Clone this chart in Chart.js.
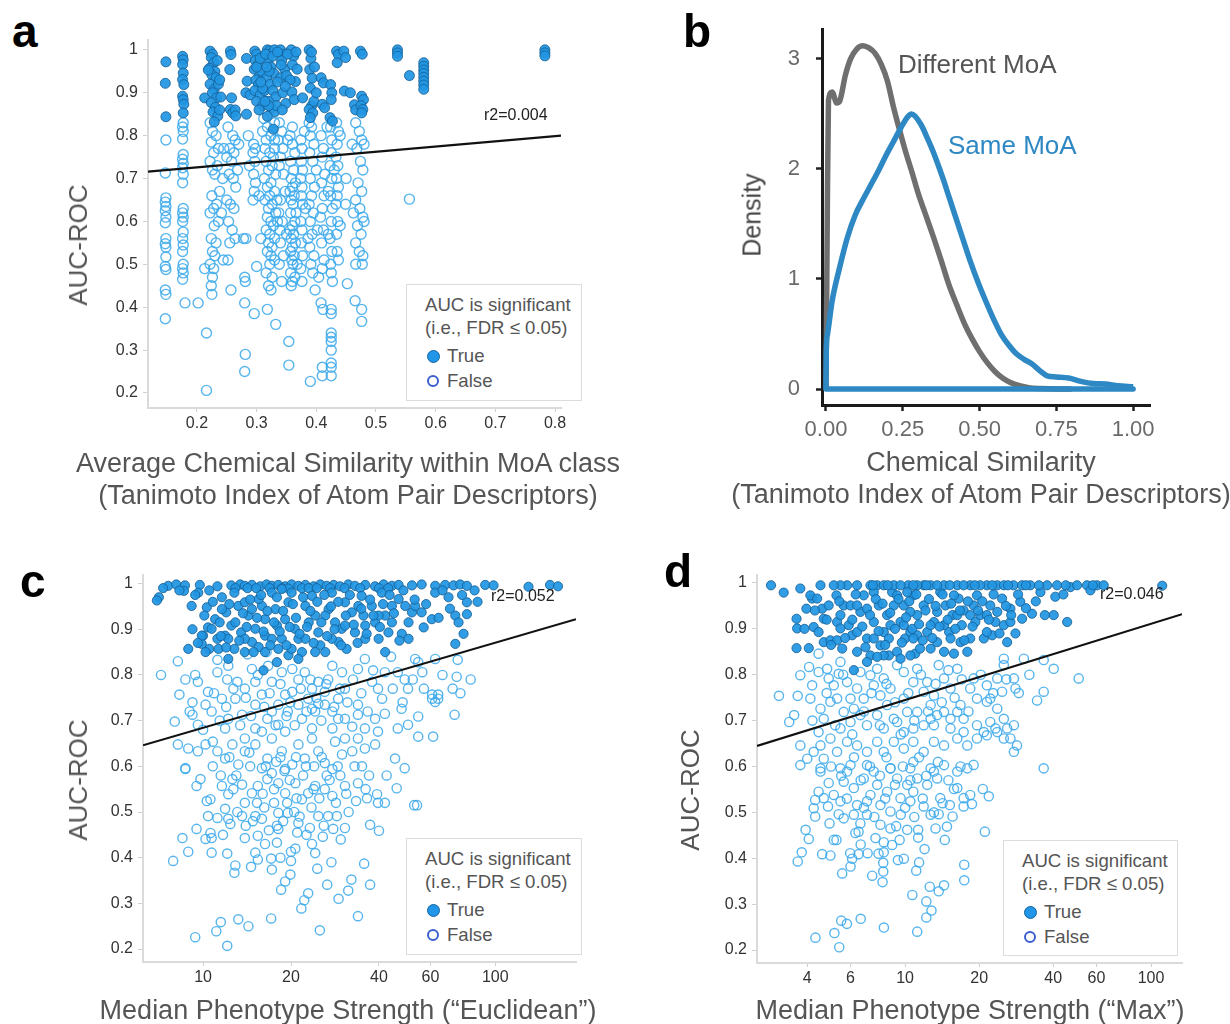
<!DOCTYPE html>
<html><head><meta charset="utf-8">
<script src="https://cdn.jsdelivr.net/npm/chart.js@4.4.1/dist/chart.umd.min.js"></script>
<style>
body{margin:0;background:#fff;}
#page{position:relative;width:1230px;height:1024px;overflow:hidden;background:#fff;font-family:'Liberation Sans',Arial,sans-serif;}
canvas{position:absolute;}
.t{position:absolute;white-space:nowrap;line-height:1;}
.ct{position:absolute;white-space:nowrap;line-height:1;transform:translate(-50%,-50%);color:#555;font-size:27px;}
.lt{position:absolute;font-weight:bold;font-size:46px;line-height:46px;color:#000;}
.yt{position:absolute;white-space:nowrap;line-height:1;transform:translate(-50%,-50%) rotate(-90deg);}
.lg{position:absolute;border:1.5px solid #dcdcdc;background:#fff;box-sizing:border-box;}
.dot{position:absolute;border-radius:50%;box-sizing:border-box;}
</style></head>
<body><div id="page">
<canvas id="ca" width="580" height="500" style="left:40px;top:20px"></canvas>
<canvas id="cb" width="540" height="520" style="left:690px;top:0px"></canvas>
<canvas id="cc" width="580" height="464" style="left:40px;top:560px"></canvas>
<canvas id="cd" width="580" height="464" style="left:650px;top:560px"></canvas>
</div>
<script>
// ---------- DATA ----------
// Panel a: Average chemical similarity vs AUC-ROC
const aXTicks = [0.2,0.3,0.4,0.5,0.6,0.7,0.8];
const aYTicks = [0.2,0.3,0.4,0.5,0.6,0.7,0.8,0.9,1];
const aTrue = [
[0.148,0.972],[0.147,0.922],[0.148,0.844],
[0.176,0.985],[0.177,0.977],[0.176,0.966],[0.177,0.946],[0.176,0.931],[0.178,0.919],[0.176,0.892],[0.177,0.884],[0.178,0.873],[0.177,0.853],
[0.213,0.888],
[0.222,0.997],[0.226,0.99],[0.224,0.982],[0.228,0.97],[0.221,0.957],[0.23,0.95],[0.225,0.942],[0.232,0.935],[0.222,0.92],[0.229,0.908],[0.226,0.9],[0.233,0.888],[0.224,0.877],[0.231,0.866],[0.227,0.855],[0.235,0.846],[0.229,0.832],[0.238,0.86],[0.236,0.92],[0.219,0.953],
[0.256,0.997],[0.257,0.989],[0.255,0.954],[0.258,0.888],[0.256,0.861],[0.26,0.853],[0.264,0.86],[0.265,0.846],
[0.283,0.98],[0.284,0.927],[0.282,0.9],[0.283,0.85],[0.289,0.895],
[0.297,0.997],[0.3,0.99],[0.298,0.975],[0.302,0.965],[0.296,0.955],[0.305,0.94],[0.299,0.93],[0.303,0.918],[0.297,0.905],[0.306,0.895],[0.3,0.88],[0.31,0.87],[0.304,0.86],[0.312,0.985],[0.309,0.95],[0.313,0.905],
[0.318,1.0],[0.322,0.998],[0.326,0.993],[0.33,1.0],[0.319,0.975],[0.324,0.96],[0.329,0.945],[0.317,0.935],[0.323,0.92],[0.327,0.905],[0.332,0.89],[0.32,0.88],[0.325,0.865],[0.33,0.855],[0.318,0.845],[0.328,0.815],[0.333,0.87],[0.321,0.95],
[0.34,1.0],[0.345,0.99],[0.342,0.975],[0.347,0.955],[0.34,0.935],[0.344,0.9],[0.349,0.875],[0.343,0.86],[0.35,0.94],
[0.358,1.0],[0.362,0.985],[0.36,0.965],[0.365,0.926],[0.359,0.902],[0.363,0.884],[0.368,0.955],
[0.377,0.888],
[0.388,1.0],[0.391,0.98],[0.389,0.954],[0.393,0.934],[0.39,0.911],[0.392,0.869],[0.388,0.861],[0.394,0.853],[0.39,0.842],[0.396,0.88],
[0.408,0.935],[0.412,0.923],[0.41,0.873],[0.414,0.865],
[0.424,0.919],[0.426,0.9],[0.425,0.884],[0.423,0.842],[0.427,0.834],
[0.434,0.997],[0.437,0.989],[0.435,0.97],
[0.446,0.997],[0.449,0.982],[0.447,0.904],
[0.457,0.9],[0.464,0.872],[0.466,0.86],
[0.474,0.997],[0.477,0.99],[0.476,0.892],[0.479,0.884],[0.475,0.87],[0.478,0.861],[0.476,0.853],
[0.536,1.0],[0.536,0.993],[0.536,0.985],
[0.556,0.94],
[0.58,0.97],[0.58,0.962],[0.58,0.953],[0.58,0.945],[0.58,0.936],[0.58,0.927],[0.58,0.918],[0.58,0.908],
[0.783,1.0],[0.783,0.993],[0.783,0.986],
[0.3,0.96],[0.306,0.98],[0.315,0.99],[0.327,0.985],[0.335,0.995],[0.341,0.965],[0.352,0.99],[0.356,0.93],[0.31,0.91],[0.32,0.87],[0.335,0.925],[0.348,0.915],[0.366,0.995],[0.234,0.975],[0.238,0.93],[0.24,0.89],[0.392,0.995],[0.397,0.96],[0.4,0.9],[0.307,0.925],[0.317,0.96],[0.314,0.88]
];
const aFalse = [
[0.148,0.79],[0.147,0.713],[0.148,0.655],[0.147,0.645],[0.148,0.635],[0.147,0.625],[0.148,0.61],[0.147,0.597],[0.148,0.56],[0.147,0.548],[0.148,0.54],[0.148,0.517],[0.147,0.495],[0.148,0.488],[0.147,0.44],[0.148,0.43],[0.147,0.373],
[0.177,0.83],[0.176,0.82],[0.177,0.81],[0.176,0.792],[0.177,0.756],[0.176,0.745],[0.177,0.735],[0.176,0.725],[0.177,0.71],[0.176,0.69],[0.177,0.63],[0.176,0.62],[0.177,0.61],[0.176,0.6],[0.177,0.575],[0.176,0.56],[0.177,0.545],[0.176,0.53],[0.177,0.5],[0.176,0.49],[0.177,0.48],[0.176,0.465],[0.18,0.41],
[0.202,0.41],[0.213,0.49],[0.216,0.34],[0.216,0.206],
[0.222,0.83],[0.226,0.81],[0.232,0.8],[0.224,0.785],[0.236,0.77],[0.228,0.76],[0.222,0.74],[0.234,0.73],[0.226,0.72],[0.23,0.71],[0.238,0.67],[0.225,0.66],[0.233,0.64],[0.228,0.63],[0.222,0.62],[0.236,0.6],[0.229,0.59],[0.224,0.56],[0.232,0.55],[0.226,0.53],[0.23,0.52],[0.222,0.5],[0.228,0.49],[0.226,0.47],[0.224,0.45],[0.225,0.43],
[0.252,0.82],[0.26,0.8],[0.264,0.79],[0.255,0.77],[0.262,0.76],[0.25,0.75],[0.258,0.74],[0.254,0.71],[0.261,0.7],[0.265,0.68],[0.25,0.65],[0.256,0.64],[0.262,0.63],[0.253,0.6],[0.259,0.58],[0.264,0.56],[0.255,0.55],[0.252,0.51],[0.257,0.44],
[0.278,0.56],[0.282,0.56],[0.28,0.47],[0.281,0.46],[0.28,0.41],[0.281,0.29],[0.28,0.25],
[0.295,0.78],[0.298,0.77],[0.294,0.76],[0.297,0.74],[0.295,0.71],[0.298,0.69],[0.296,0.67],[0.294,0.65],[0.3,0.495],[0.296,0.385],
[0.312,0.84],[0.318,0.82],[0.324,0.8],[0.33,0.79],[0.314,0.77],[0.322,0.76],[0.328,0.75],[0.316,0.74],[0.326,0.73],[0.32,0.72],[0.332,0.71],[0.313,0.7],[0.324,0.69],[0.318,0.68],[0.33,0.67],[0.322,0.66],[0.314,0.65],[0.326,0.64],[0.32,0.63],[0.332,0.62],[0.318,0.61],[0.324,0.6],[0.328,0.59],[0.316,0.58],[0.322,0.57],[0.33,0.56],[0.32,0.55],[0.326,0.54],[0.318,0.53],[0.324,0.52],[0.33,0.51],[0.322,0.5],[0.316,0.48],[0.326,0.47],[0.32,0.45],[0.324,0.44],[0.318,0.395],[0.332,0.36],
[0.338,0.83],[0.342,0.81],[0.336,0.79],[0.344,0.77],[0.34,0.75],[0.338,0.73],[0.345,0.71],[0.34,0.65],[0.337,0.62],[0.343,0.6],[0.339,0.58],[0.345,0.52],[0.338,0.5],[0.342,0.46],
[0.356,0.8],[0.36,0.78],[0.364,0.76],[0.357,0.74],[0.362,0.72],[0.358,0.7],[0.365,0.69],[0.36,0.68],[0.356,0.67],[0.363,0.66],[0.358,0.65],[0.361,0.64],[0.357,0.62],[0.364,0.6],[0.36,0.59],[0.356,0.58],[0.362,0.57],[0.358,0.56],[0.365,0.55],[0.36,0.54],[0.357,0.53],[0.363,0.52],[0.359,0.51],[0.361,0.5],[0.357,0.48],[0.364,0.47],[0.36,0.46],[0.358,0.45],[0.354,0.32],[0.354,0.265],
[0.374,0.79],[0.376,0.77],[0.375,0.74],[0.377,0.72],[0.374,0.7],[0.376,0.68],[0.375,0.66],[0.377,0.64],[0.374,0.6],[0.376,0.58],[0.375,0.55],[0.377,0.52],[0.374,0.49],[0.376,0.46],
[0.388,0.83],[0.392,0.82],[0.39,0.8],[0.396,0.78],[0.389,0.76],[0.394,0.74],[0.39,0.7],[0.397,0.68],[0.392,0.66],[0.388,0.64],[0.395,0.62],[0.39,0.6],[0.393,0.57],[0.389,0.54],[0.396,0.52],[0.391,0.5],[0.394,0.48],[0.398,0.44],[0.39,0.227],
[0.408,0.8],[0.412,0.77],[0.41,0.75],[0.414,0.71],[0.409,0.69],[0.413,0.66],[0.41,0.63],[0.407,0.61],[0.412,0.58],[0.409,0.55],[0.413,0.51],[0.41,0.49],[0.408,0.41],[0.411,0.395],[0.41,0.26],[0.41,0.24],
[0.424,0.82],[0.426,0.79],[0.425,0.76],[0.423,0.73],[0.426,0.7],[0.424,0.66],[0.427,0.63],[0.425,0.6],[0.423,0.56],[0.426,0.53],[0.424,0.5],[0.425,0.48],[0.427,0.46],[0.425,0.395],[0.425,0.385],[0.425,0.34],[0.425,0.33],[0.425,0.32],[0.425,0.3],[0.425,0.27],[0.425,0.26],[0.425,0.24],
[0.434,0.83],[0.437,0.81],[0.435,0.78],[0.433,0.75],[0.436,0.73],[0.434,0.7],[0.437,0.68],[0.435,0.66],[0.433,0.64],[0.436,0.6],[0.434,0.57],[0.435,0.53],[0.437,0.51],
[0.45,0.7],[0.449,0.64],[0.452,0.455],
[0.466,0.83],[0.472,0.81],[0.476,0.79],[0.468,0.77],[0.474,0.74],[0.478,0.72],[0.47,0.69],[0.476,0.67],[0.466,0.65],[0.473,0.63],[0.478,0.61],[0.469,0.59],[0.475,0.57],[0.466,0.55],[0.472,0.53],[0.477,0.5],[0.466,0.5],[0.465,0.415],[0.476,0.395],[0.476,0.367],
[0.556,0.652],
[0.31,0.81],[0.33,0.83],[0.316,0.79],[0.33,0.77],[0.334,0.65],[0.335,0.6],[0.34,0.55],[0.348,0.67],[0.35,0.57],[0.352,0.79],[0.36,0.82],[0.366,0.62],[0.368,0.5],[0.38,0.81],[0.382,0.63],[0.386,0.56],[0.4,0.72],[0.402,0.58],[0.404,0.47],[0.418,0.82],[0.42,0.67],[0.42,0.57],[0.43,0.72],[0.44,0.8],[0.44,0.59],[0.46,0.78],[0.462,0.62],[0.48,0.6],[0.48,0.78],[0.478,0.52],[0.245,0.77],[0.243,0.7],[0.241,0.62],[0.244,0.51],[0.27,0.78],[0.268,0.72],[0.286,0.8],[0.288,0.73],[0.304,0.66],[0.307,0.56]
];
const aFit = [[0.118,0.716],[0.81,0.80]];
const aR2 = "r2=0.004";

// Panel b: density of chemical similarity
const bXTicks = [0,0.25,0.5,0.75,1];
const bYTicks = [0,1,2,3];
const bDifferent = [[0,0],[0.004,1.5],[0.008,2.62],[0.02,2.7],[0.035,2.6],[0.045,2.62],[0.063,2.85],[0.08,3.0],[0.1,3.09],[0.12,3.12],[0.14,3.1],[0.16,3.05],[0.18,2.95],[0.2,2.8],[0.22,2.56],[0.24,2.35],[0.26,2.15],[0.28,1.97],[0.3,1.78],[0.325,1.58],[0.35,1.38],[0.375,1.17],[0.4,0.95],[0.425,0.77],[0.45,0.6],[0.475,0.46],[0.5,0.34],[0.525,0.24],[0.55,0.16],[0.575,0.1],[0.6,0.06],[0.63,0.03],[0.66,0.012],[0.7,0.004],[0.75,0],[0.8,0]];
const bSame = [[0,0],[0.001,0.35],[0.005,0.5],[0.02,0.8],[0.044,1.1],[0.07,1.38],[0.095,1.58],[0.12,1.72],[0.145,1.85],[0.17,1.98],[0.195,2.12],[0.22,2.25],[0.245,2.38],[0.265,2.47],[0.278,2.5],[0.29,2.48],[0.31,2.4],[0.33,2.28],[0.35,2.15],[0.37,2.0],[0.385,1.88],[0.4,1.75],[0.42,1.58],[0.445,1.37],[0.47,1.16],[0.495,0.97],[0.52,0.8],[0.545,0.64],[0.57,0.5],[0.595,0.4],[0.62,0.32],[0.645,0.27],[0.67,0.23],[0.695,0.17],[0.72,0.12],[0.75,0.11],[0.79,0.1],[0.83,0.07],[0.87,0.05],[0.91,0.045],[0.95,0.03],[1.0,0.02]];
const bBaseline = [[0,0],[1.0,0]];

// Panel c: Median phenotype strength (Euclidean)
const cXTicks = [10,20,40,60,100];
const cYTicks = [0.2,0.3,0.4,0.5,0.6,0.7,0.8,0.9,1];
const cTrue = [
[7.6,0.995],[8.1,0.998],[8.67,0.996],[9.75,0.997],[11.2,0.994],[12.5,0.996],[13.4,0.998],[13.9,0.995],[14.7,0.997],[15.7,0.994],[16.5,0.998],[17.2,0.995],[18.1,0.997],[19.1,0.994],[20.1,0.998],[21.2,0.995],[22.4,0.997],[23.9,0.994],[25.2,0.998],[26.5,0.995],[28,0.997],[29.4,0.994],[31.4,0.998],[33.1,0.995],[35.9,0.997],[38.8,0.994],[41.5,0.998],[44.3,0.995],[46.7,0.997],[51.9,0.996],[56,0.998],[62.3,0.995],[67.4,0.997],[72,0.996],[75.9,0.998],[80,0.995],[92.4,0.997],[98.7,0.996],[130,0.993],[154,0.997],[164,0.994],
[12.9,0.99],[14.2,0.99],[15.2,0.99],[16.9,0.99],[18.6,0.99],[19.6,0.989],[21.8,0.99],[23,0.99],[24.5,0.99],[27.2,0.99],[30.5,0.99],[34.5,0.99],[40,0.99],[43,0.99],
[7.06,0.97],[6.95,0.963],[8.6,0.984],[9.14,0.951],[9.63,0.98],[10.3,0.948],[11.0,0.922],[11.6,0.97],[10.4,0.904],[10.0,0.886],[9.9,0.868],[8.9,0.857],[10.5,0.857],[11.2,0.879],[11.9,0.886],[12.5,0.908],[11.4,0.915],[12.0,0.937],[13.2,0.951],[12.8,0.98],[13.9,0.959],[14.3,0.93],[15.1,0.901],[14.7,0.872],[13.9,0.85],[12.8,0.857],[15.9,0.951],[16.3,0.922],[16.3,0.886],[15.5,0.861],[17.2,0.98],[17.7,0.944],[17.9,0.908],[18.1,0.857],[18.6,0.879],[19.1,0.922],[19.6,0.959],[20.1,0.98],[20.6,0.901],[21.2,0.879],[21.8,0.85],[22.4,0.951],[23.0,0.915],[23.6,0.973],[24.2,0.93],[24.8,0.893],[25.2,0.865],[26.2,0.85],[26.9,0.944],[27.6,0.98],[28.3,0.915],[29.1,0.872],[30.6,0.959],[31.0,0.857],[32.3,0.937],[33.1,0.893],[34.9,0.973],[35.4,0.93],[35.9,0.879],[37.8,0.951],[38.8,0.915],[39.9,0.879],[40.9,0.98],[42.0,0.93],[43.1,0.893],[44.3,0.951],[46.7,0.966],[47.9,0.89],[50.5,0.879],[49.2,0.951],[51.9,0.937],[53.2,0.951],[56.0,0.937],[56.9,0.904],[60.7,0.922],[62.3,0.98],[69.2,0.97],[73.0,0.93],[74.9,0.915],[77.9,0.89],[73.0,0.868],[80.0,0.959],[80.0,0.933],[42.0,0.85],[16.1,0.81],[19.6,0.843],[21.2,0.835],[17.9,0.828],[10.2,0.85],[10.7,0.901],[12.2,0.879],[13.5,0.893],[15.5,0.966],[18.6,0.988],[26.2,0.93],[29.8,0.901],[34.0,0.951],[39.9,0.93],[22.4,0.879],[20.1,0.857],[16.3,0.85],[14.7,0.944],[11.6,0.944],[9.9,0.886],[11.3,0.857],[12.2,0.835],[13.9,0.879],[17.2,0.879],[24.2,0.85],[27.6,0.879],[30.6,0.908],[35.9,0.908],[44.3,0.915],[50.5,0.915],
[9.2,0.9],[9.6,0.87],[10.1,0.93],[10.8,0.96],[11.5,0.885],[12.0,0.86],[12.3,0.955],[12.9,0.915],[13.3,0.875],[13.7,0.935],[14.1,0.905],[14.5,0.965],[14.9,0.85],[15.3,0.925],[15.8,0.975],[16.1,0.895],[16.6,0.94],[17.0,0.865],[17.5,0.915],[17.9,0.97],[18.3,0.895],[18.8,0.94],[19.3,0.865],[19.8,0.905],[20.3,0.955],[20.8,0.925],[21.4,0.89],[22.0,0.97],[22.7,0.905],[23.3,0.94],[23.9,0.87],[24.6,0.96],[25.4,0.915],[26.0,0.975],[26.6,0.885],[27.4,0.95],[28.2,0.9],[29.0,0.96],[29.7,0.865],[30.8,0.93],[31.8,0.975],[32.8,0.91],[33.8,0.87],[34.8,0.945],[36.3,0.89],[37.3,0.965],[38.3,0.93],[40.3,0.905],[41.3,0.955],[43.5,0.975],[45,0.935],[47,0.875],[48.5,0.985],[53,0.965],[58,0.955],[64,0.925],[66,0.985],[70,0.945],[77,0.975],[85,0.985],[87,0.96],[9.4,0.975],[10.5,0.985],[7.3,0.99],[8.3,0.985]
];
const cFalse = [
[8.2,0.83],[7.18,0.8],[8.0,0.698],[8.3,0.757],[8.7,0.79],[9.4,0.8],[9.6,0.785],[9.2,0.74],[10.2,0.735],[10.7,0.72],[10.4,0.763],[11.2,0.806],[11.2,0.833],[12.2,0.82],[12.1,0.79],[13.1,0.785],[12.9,0.748],[11.6,0.748],[13.9,0.77],[14.7,0.813],[15.1,0.785],[15.9,0.757],[17.2,0.785],[16.7,0.82],[18.6,0.806],[18.1,0.735],[20.2,0.813],[21.2,0.79],[22.3,0.806],[23.6,0.77],[24.8,0.785],[26.8,0.79],[27.7,0.82],[29.9,0.806],[30.6,0.77],[33.9,0.813],[35.8,0.835],[37.9,0.785],[39.7,0.77],[41.9,0.806],[46.4,0.806],[49.0,0.79],[50.3,0.77],[53.2,0.835],[54.5,0.828],[56.3,0.806],[62.3,0.835],[63.8,0.757],[60.8,0.757],[74.4,0.833],[73.8,0.796],[71.5,0.77],[82.4,0.79],[54.5,0.709],[50.3,0.691],[54.5,0.665],[61.3,0.665],[41.9,0.715],[38.8,0.704],[35.8,0.683],[33.9,0.661],[30.6,0.704],[32.4,0.687],[29,0.704],[27.7,0.72],[26.1,0.735],[24.2,0.72],[22.9,0.748],[21.2,0.735],[19.5,0.72],[18.1,0.691],[16.6,0.704],[15.1,0.683],[13.9,0.661],[12.6,0.648],[11.2,0.633],[10.2,0.648],[8.9,0.639],[8.2,0.648],
[8.7,0.594],[9.8,0.572],[9.5,0.557],[10.3,0.524],[10.6,0.528],[11.6,0.557],[12.6,0.572],[12.2,0.539],[11.9,0.507],[10.4,0.491],[11.2,0.487],[12.2,0.485],[12.4,0.474],[13.6,0.491],[13.9,0.52],[14.7,0.541],[15.4,0.557],[16.6,0.572],[17.2,0.585],[18.1,0.563],[19.1,0.541],[20.7,0.563],[21.8,0.528],[22.9,0.541],[24.2,0.557],[26.1,0.55],[27.7,0.535],[30.6,0.557],[33.9,0.563],[36.4,0.53],[39.7,0.52],[41.9,0.52],[46,0.552],[54,0.515],[15.1,0.491],[15.9,0.485],[18.1,0.498],[19.5,0.498],[21.2,0.476],[24.8,0.491],[26.8,0.491],[28.7,0.491],[30.6,0.465],[27.9,0.463],[25.7,0.446],[23.6,0.43],[23.2,0.465],[18.1,0.463],[15.4,0.448],[13.9,0.443],[10.7,0.443],[10.2,0.441],[10.6,0.454],[9.5,0.463],[8.5,0.443],[7.9,0.393],[8.9,0.413],[10.7,0.411],[12.1,0.409],[12.9,0.383],[12.8,0.367],[15.1,0.411],[15.4,0.396],[17.1,0.398],[17.2,0.374],[18.4,0.4],[17.9,0.433],[20,0.413],[20,0.393],[19.9,0.363],[19.1,0.348],[24.6,0.376],[26.6,0.341],[22.9,0.322],[22.2,0.307],[21.7,0.289],[31.4,0.328],[32.2,0.352],[35.6,0.387],[37.3,0.341],[33.9,0.272],[17.1,0.267],[13.2,0.265],[14.3,0.25],[11.5,0.259],[11.1,0.239],[9.4,0.226],[12.1,0.207],[25.1,0.241],[40,0.459],[37.3,0.472],[33.4,0.524],[39.4,0.539],[52.8,0.515],
[8.7,0.596],[9.6,0.633],[10.8,0.654],[11.9,0.617],[13.2,0.604],[13.9,0.633],[15.1,0.648],[16.6,0.617],[17.2,0.661],[18.6,0.633],[20.2,0.604],[21.2,0.648],[22.3,0.617],[23.6,0.661],[24.8,0.633],[26.1,0.607],[28.3,0.654],[29.9,0.626],[32.4,0.633],[35.8,0.639],[38.8,0.648],[45.4,0.617],[49,0.596],[15.9,0.596],[19.1,0.594],[27.7,0.594],
[20.2,0.763],[19.1,0.757],[26.1,0.763],[29,0.748],[24.8,0.737],[23.6,0.726],[21.8,0.704],[17.2,0.72],[15.1,0.735],[13.6,0.713],[12.2,0.704],[9.6,0.691],[9.2,0.713],[11.9,0.683],[15.9,0.676],[19.1,0.676],[23.6,0.683],[27.7,0.683],[30.6,0.661],[39.7,0.676],[46.4,0.683],[72.6,0.713],[62.3,0.741],[47.8,0.726],[33.9,0.713],[41,0.748],[33.9,0.735],[60.8,0.748],[63.8,0.748],
[13,0.58],[14.5,0.6],[16,0.54],[17.5,0.52],[19,0.59],[20.5,0.5],[22,0.58],[23.5,0.51],[25,0.53],[26.5,0.58],[28.5,0.52],[14,0.47],[16.8,0.46],[18.8,0.48],[21,0.455],[12.7,0.55],[17.8,0.61],[20.8,0.62],[24,0.6],[29.5,0.58],[31.5,0.5],[35,0.6],[37,0.58],[16.5,0.85],[14.2,0.845],[44,0.84],
[9.0,0.72],[10.0,0.68],[10.9,0.76],[11.4,0.7],[12.0,0.73],[12.7,0.77],[13.4,0.69],[14.0,0.75],[14.6,0.71],[15.4,0.8],[16.2,0.73],[16.9,0.76],[17.7,0.69],[18.4,0.78],[19.3,0.71],[19.9,0.74],[20.6,0.69],[21.6,0.77],[22.6,0.72],[23.3,0.79],[24.4,0.75],[25.4,0.7],[26.4,0.78],[28.1,0.73],[29.4,0.77],[31.2,0.74],[32.6,0.79],[34.8,0.76],[36.6,0.72],[38.2,0.81],[44.6,0.77],[48.2,0.74],[52.2,0.79],[57,0.77],[66,0.8],[76,0.76],
[10.8,0.6],[11.5,0.58],[12.3,0.62],[13.6,0.56],[14.4,0.63],[15.3,0.52],[16.4,0.6],[17.5,0.55],[18.4,0.62],[19.8,0.57],[20.9,0.53],[22.5,0.6],[23.9,0.55],[25.5,0.62],[27.1,0.57],[28.9,0.6],[30.9,0.54],[33,0.6],[36,0.55],[42.5,0.58],[13.1,0.5],[14.8,0.48],[16.2,0.51],[17.9,0.47],[19.4,0.52],[21.4,0.49],[22.6,0.45],[25.9,0.47],[29.6,0.44],[11.7,0.45],[16.3,0.43],[20.7,0.42],[24.2,0.41],[14.6,0.38],[27.5,0.39],[18.5,0.33],[29.1,0.31]
];
const cFit = [[6.23,0.646],[189,0.922]];
const cR2 = "r2=0.052";

// Panel d: Median phenotype strength (Max)
const dXTicks = [4,6,10,20,40,60,100];
const dYTicks = [0.2,0.3,0.4,0.5,0.6,0.7,0.8,0.9,1];
const dTrue = [
[2.85,0.995],[3.21,0.979],[3.62,0.922],[3.64,0.901],[3.62,0.858],[4.06,0.858],[3.97,0.944],[4.19,0.966],[4.25,0.904],[4.45,0.893],[4.53,0.995],[4.6,0.944],[4.67,0.871],[4.89,0.951],[4.97,0.875],[5.26,0.973],[5.29,0.915],[5.29,0.875],[5.55,0.857],[5.63,0.951],[5.81,0.995],[5.9,0.908],[6.09,0.886],[6.19,0.81],[6.38,0.85],[6.58,0.937],[6.79,0.973],[7.0,0.879],[7.23,0.842],[7.46,0.915],[7.7,0.995],[7.82,0.951],[7.94,0.864],[8.19,0.893],[8.45,0.93],[8.59,0.842],[8.86,0.98],[9.0,0.995],[9.28,0.85],[9.58,0.915],[9.88,0.951],[10.0,0.879],[10.3,0.995],[10.5,0.893],[10.8,0.973],[11.0,0.846],[11.2,0.93],[11.5,0.857],[11.9,0.951],[12.3,0.893],[12.7,0.995],[13.1,0.915],[13.5,0.871],[13.9,0.98],[14.4,0.85],[14.6,0.951],[15.1,0.893],[15.6,0.93],[15.8,0.846],[16.3,0.995],[16.5,0.966],[17.0,0.908],[17.9,0.85],[18.4,0.879],[19.0,0.951],[19.6,0.973],[20.2,0.93],[20.9,0.879],[21.5,0.995],[22.6,0.886],[23.7,0.937],[24.8,0.966],[25.2,0.908],[26.0,0.871],[27.6,0.995],[28.1,0.89],[29.4,0.959],[29.9,0.922],[32.3,0.995],[32.8,0.933],[35.5,0.98],[40.2,0.93],[40.8,0.97],[41.5,0.995],[45.6,0.915],[47.0,0.991],[54.9,0.995],[56.7,0.984],[60.3,0.995],[64.2,0.995],[111,0.994],
[4.12,0.973],[5.46,0.93],[7.0,0.944],[9.88,0.908],[14.4,0.908],[16.8,0.871],[12.7,0.857],[11.2,0.886],[9.58,0.835],[8.19,0.842],[6.38,0.893],[5.46,0.901],[4.67,0.922],[4.39,0.966],[3.75,0.988],[7.23,0.995],[5.46,0.995],[11.9,0.995],[14.4,0.995],[18.4,0.995],[23.7,0.995],[37.8,0.995],[29.9,0.995],[22.2,0.951],[26.8,0.944],[23.3,0.915],[19.3,0.915],[21.5,0.893],[10.8,0.879],[8.72,0.908],[7.46,0.879],[17.3,0.94],[7.7,0.839],[10.5,0.842],[7.0,0.828],[6.0,0.951],[9.28,0.973],[13.5,0.937],[15.3,0.879],[16.3,0.93],[10.5,0.937],[8.59,0.879],[6.38,0.951],[12.7,0.908],[18.4,0.93],[26.8,0.915],[9.0,0.951],[7.46,0.98],[10.2,0.98],[15.8,0.973],[21.5,0.93],[5.13,0.995],[6.38,0.995],[8.19,0.995],[9.58,0.995],[11.2,0.995],[13.5,0.995],[17.3,0.995],[20.2,0.995],[25.2,0.995],
[3.9,0.9],[4.3,0.94],[4.8,0.92],[5.0,0.865],[5.4,0.96],[5.7,0.88],[6.1,0.92],[6.3,0.975],[6.7,0.905],[6.9,0.86],[7.2,0.93],[7.6,0.965],[7.8,0.895],[8.1,0.955],[8.3,0.865],[8.7,0.935],[9.1,0.9],[9.4,0.965],[9.7,0.87],[10.1,0.925],[10.4,0.96],[10.7,0.9],[11.1,0.975],[11.4,0.91],[11.8,0.875],[12.1,0.94],[12.5,0.965],[12.9,0.88],[13.3,0.95],[13.8,0.905],[14.2,0.975],[14.9,0.92],[15.4,0.955],[16.0,0.9],[16.7,0.94],[17.4,0.875],[18.0,0.96],[18.8,0.905],[19.8,0.94],[20.6,0.96],[21.9,0.92],[22.9,0.975],[24.2,0.89],[25.7,0.95],[27,0.93],[28.8,0.975],[31,0.945],[34,0.96],[37,0.93],[44,0.975],[50,0.995],[7.4,0.995],[8.5,0.995],[10.8,0.995],[12.2,0.995],[15.2,0.995],[19.2,0.995],[22.6,0.995],[26.2,0.995],[31,0.995],[35,0.995],[45,0.995],[58,0.995]
];
const dFalse = [
[3.07,0.754],[3.38,0.697],[3.54,0.712],[3.66,0.754],[3.75,0.799],[4.12,0.748],[4.19,0.777],[4.45,0.846],[4.07,0.817],[4.45,0.806],[4.82,0.813],[4.89,0.792],[5.13,0.777],[5.46,0.828],[5.37,0.802],[5.29,0.748],[5.63,0.719],[4.53,0.726],[4.45,0.675],[4.67,0.704],[4.97,0.741],[5.81,0.784],[6.0,0.748],[6.19,0.726],[6.58,0.806],[6.38,0.77],[6.79,0.748],[7.23,0.799],[7.46,0.777],[7.7,0.813],[7.94,0.755],[8.19,0.792],[8.45,0.734],[8.72,0.77],[9.28,0.821],[9.0,0.704],[9.88,0.806],[9.88,0.748],[10.2,0.719],[10.8,0.784],[11.2,0.813],[11.9,0.763],[12.3,0.784],[12.7,0.734],[13.1,0.755],[13.5,0.712],[13.7,0.821],[14.4,0.792],[15.3,0.77],[16.3,0.813],[16.8,0.734],[18.4,0.77],[19.0,0.792],[19.6,0.748],[21.5,0.777],[22.2,0.748],[23.7,0.792],[24.8,0.763],[25.2,0.821],[25.2,0.835],[27.7,0.792],[28.1,0.77],[30.4,0.835],[36.6,0.832],[40.2,0.813],[36.6,0.763],[50.8,0.792],[25.2,0.704],[23.7,0.726],[21.5,0.741],[22.2,0.697],[20.9,0.675],[17.3,0.704],[16.3,0.719],[15.3,0.704],[14.4,0.719],[12.7,0.704],[11.9,0.69],[11.2,0.719],[10.8,0.683],[9.88,0.675],[9.28,0.697],[8.19,0.683],[7.7,0.712],[7.0,0.69],[6.58,0.712],[6.0,0.697],[5.46,0.683],[4.97,0.661],[4.53,0.646],[4.25,0.632],[3.75,0.646],[4.0,0.617],[4.67,0.617],[5.29,0.632],[5.81,0.654],[6.38,0.646],[7.0,0.632],[7.7,0.654],[8.19,0.632],[9.0,0.654],[9.88,0.639],[10.8,0.654],[11.9,0.632],[13.1,0.654],[14.4,0.646],[16.3,0.661],[17.9,0.646],[19.6,0.661],[21.5,0.668],[23.7,0.675],[26.0,0.683],[27.7,0.69],[19.6,0.69],[26.8,0.661],[28.5,0.646],[27.7,0.632],[36.6,0.596],[17.9,0.596],[14.4,0.603],[12.7,0.596],[10.8,0.61],[8.72,0.596],[7.0,0.603],[6.0,0.603],[4.53,0.596],[3.75,0.603],[13.1,0.69],[15.3,0.683],[17.3,0.675],[34.4,0.744],[23.3,0.683],[25.2,0.661],
[4.45,0.545],[4.31,0.527],[4.25,0.509],[4.31,0.491],[4.86,0.513],[4.93,0.476],[3.94,0.462],[4.06,0.442],[3.8,0.413],[3.66,0.393],[4.6,0.409],[4.97,0.406],[5.13,0.44],[5.26,0.44],[5.37,0.496],[5.55,0.367],[6.0,0.382],[6.09,0.399],[5.98,0.411],[6.47,0.409],[7.04,0.411],[6.28,0.455],[6.47,0.458],[7.58,0.444],[8.19,0.435],[8.86,0.429],[8.19,0.413],[8.15,0.39],[8.15,0.371],[7.35,0.362],[8.1,0.348],[9.35,0.396],[9.88,0.399],[11.4,0.391],[11.1,0.373],[10.2,0.462],[11.3,0.462],[11.3,0.445],[13.3,0.465],[14.8,0.469],[10.7,0.32],[12.6,0.338],[13.7,0.328],[14.4,0.341],[12.2,0.306],[12.8,0.286],[12.2,0.271],[17.4,0.386],[17.4,0.352],[21.1,0.458],[11.2,0.24],[8.2,0.249],[6.6,0.268],[5.8,0.257],[5.5,0.264],[5.16,0.237],[4.32,0.227],[5.4,0.206],[17.3,0.513],[18.7,0.518],[20.7,0.551],[21.9,0.535],[15.8,0.551],[16.3,0.553],[15.2,0.516],[15.6,0.491],[13.7,0.496],[12.7,0.495],[11.9,0.513],[10.5,0.524],[9.6,0.495],[8.72,0.502],[8.72,0.465],[7.94,0.473],[7.0,0.495],[6.58,0.476],[6.19,0.495],[5.63,0.487],[5.46,0.524],[5.13,0.538],[4.89,0.564],[4.67,0.531],[5.63,0.567],[6.19,0.553],[6.79,0.574],[7.23,0.538],[7.7,0.56],[7.94,0.516],[8.45,0.545],[9.28,0.574],[9.58,0.531],[10.2,0.56],[11.2,0.574],[10.8,0.545],[12.3,0.56],[13.5,0.574],[13.9,0.531],[13.1,0.589],[16.3,0.589],[10.5,0.596],[7.46,0.589],[5.81,0.589],[4.53,0.589],[5.46,0.596],[8.72,0.596],[19.0,0.6035],[18.4,0.538],[17.3,0.531],[7.0,0.524],[6.38,0.516],
[4.2,0.7],[4.8,0.76],[5.2,0.69],[5.6,0.8],[6.1,0.67],[6.8,0.72],[7.3,0.76],[7.9,0.69],[8.4,0.78],[9.1,0.74],[9.6,0.67],[10.3,0.76],[10.9,0.7],[11.6,0.8],[12.4,0.72],[13.3,0.78],[14.1,0.74],[15,0.81],[15.9,0.75],[17,0.79],[18.1,0.72],[20.3,0.8],[22.8,0.76],[25.8,0.79],[29,0.76],[32,0.8],
[5.0,0.6],[5.5,0.58],[6.2,0.62],[6.6,0.57],[7.2,0.6],[7.9,0.58],[8.4,0.62],[9.1,0.56],[9.8,0.6],[10.5,0.57],[11.4,0.62],[12.2,0.58],[13.6,0.61],[15.0,0.57],[16.8,0.6],[5.8,0.53],[6.8,0.51],[7.5,0.49],[8.3,0.53],[9.2,0.47],[10.0,0.51],[10.9,0.49],[11.8,0.53],[13.1,0.5],[14.2,0.52],[6.6,0.43],[7.8,0.41],[9.5,0.44],[12,0.42],[14.5,0.44]
];
const dFit = [[2.5,0.645],[133.6,0.932]];
const dR2 = "r2=0.046";

// ---------- RENDER ----------
const FONT = "'Liberation Sans', Arial, sans-serif";
const pts = arr => arr.map(p => ({x:p[0], y:p[1]}));
const yFmt = v => (v === 1 ? '1' : v.toFixed(1));

function makeScatter(id, o) {
  const xH = o.h - o.padBottom - o.B;
  return new Chart(document.getElementById(id), {
    type: 'scatter',
    data: {datasets: [
      {type:'line', data: pts(o.fit), borderColor:'#111', borderWidth:2.2, pointRadius:0, order:0},
      {data: pts(o.trueData), backgroundColor:'rgba(33,150,226,0.93)', borderColor:'rgba(22,96,150,0.85)', borderWidth:1, pointRadius:o.radius, order:1},
      {data: pts(o.falseData), backgroundColor:'rgba(0,0,0,0)', borderColor:'rgba(58,168,235,0.85)', borderWidth:1.4, pointRadius:o.radius, order:2}
    ]},
    options: {
      responsive:false, animation:false, events:[],
      layout:{padding:{left:0, top:o.T, right:o.w - o.R, bottom:o.padBottom}},
      plugins:{legend:{display:false}, tooltip:{enabled:false}},
      scales:{
        x:{type:o.xType, position:'bottom', min:o.xMin, max:o.xMax,
          afterBuildTicks: s => { s.ticks = o.xTicks.map(v => ({value:v})); },
          afterFit: s => { s.height = xH; },
          ticks:{autoSkip:false, maxRotation:0, padding:2, color:'#333', font:{family:FONT, size:16}, callback:o.xFmt},
          grid:{drawOnChartArea:false, drawTicks:true, tickLength:4, color:'#d0d0d0'},
          border:{display:true, color:'#dadada', width:2}
        },
        y:{type:'linear', position:'left', min:o.yMin, max:o.yMax,
          afterBuildTicks: s => { s.ticks = o.yTicks.map(v => ({value:v})); },
          afterFit: s => { s.width = o.L; },
          ticks:{autoSkip:false, padding:5, color:'#333', font:{family:FONT, size:16}, callback:yFmt},
          grid:{drawOnChartArea:false, drawTicks:true, tickLength:5, color:'#d0d0d0'},
          border:{display:true, color:'#dadada', width:2}
        }
      }
    }
  });
}

makeScatter('ca', {w:580, h:500, L:108, T:20, R:521, B:388, padBottom:9,
  xType:'linear', xMin:0.118, xMax:0.81, xTicks:aXTicks, xFmt: v => v.toFixed(1),
  yMin:0.165, yMax:1.023, yTicks:aYTicks, trueData:aTrue, falseData:aFalse, fit:aFit, radius:5});

makeScatter('cc', {w:580, h:464, L:103, T:12, R:536, B:402, padBottom:0,
  xType:'logarithmic', xMin:6.23, xMax:189, xTicks:cXTicks, xFmt: v => String(v),
  yMin:0.1717, yMax:1.0196, yTicks:cYTicks, trueData:cTrue, falseData:cFalse, fit:cFit, radius:4.6});

makeScatter('cd', {w:580, h:464, L:107, T:15, R:532, B:403, padBottom:0,
  xType:'logarithmic', xMin:2.5, xMax:133.6, xTicks:dXTicks, xFmt: v => String(v),
  yMin:0.1717, yMax:1.0174, yTicks:dYTicks, trueData:dTrue, falseData:dFalse, fit:dFit, radius:4.6});

// Panel b
(function(){
  const w = 540, h = 520, L = 132, T = 28, R = 460, B = 405, pb = 10;
  new Chart(document.getElementById('cb'), {
    type:'scatter',
    data:{datasets:[
      {data:pts(bBaseline), showLine:true, borderColor:'#2e88c3', borderWidth:5.5, pointRadius:0, borderCapStyle:'round', order:0},
      {data:pts(bSame), showLine:true, borderColor:'#2e88c3', borderWidth:5.5, pointRadius:0, cubicInterpolationMode:'monotone', borderJoinStyle:'round', order:1},
      {data:pts(bDifferent), showLine:true, borderColor:'#6f6f6f', borderWidth:5.5, pointRadius:0, cubicInterpolationMode:'monotone', borderJoinStyle:'round', order:2}
    ]},
    options:{
      responsive:false, animation:false, events:[],
      layout:{padding:{left:0, top:T, right:w - R, bottom:pb}},
      plugins:{legend:{display:false}, tooltip:{enabled:false}},
      scales:{
        x:{type:'linear', min:-0.013, max:1.055,
          afterBuildTicks: s => { s.ticks = bXTicks.map(v => ({value:v})); },
          afterFit: s => { s.height = h - pb - B; },
          ticks:{autoSkip:false, maxRotation:0, padding:6, color:'#6a6a6a', font:{family:FONT, size:22}, callback: v => v.toFixed(2)},
          grid:{drawOnChartArea:false, drawTicks:true, tickLength:6, tickColor:'#222', tickWidth:2.5},
          border:{display:true, color:'#1a1a1a', width:3}
        },
        y:{type:'linear', min:-0.145, max:3.27,
          afterBuildTicks: s => { s.ticks = bYTicks.map(v => ({value:v})); },
          afterFit: s => { s.width = L; },
          ticks:{autoSkip:false, padding:16, color:'#6a6a6a', font:{family:FONT, size:22}, callback: v => String(v)},
          grid:{drawOnChartArea:false, drawTicks:true, tickLength:6, tickColor:'#222', tickWidth:2.5},
          border:{display:true, color:'#1a1a1a', width:3}
        }
      }
    }
  });
})();

// ---------- TEXT OVERLAYS ----------
const page = document.getElementById('page');
function txt(s, left, top, size, color, cls) {
  const d = document.createElement('div');
  d.className = cls || 't';
  d.textContent = s;
  d.style.left = left + 'px'; d.style.top = top + 'px';
  if (size) d.style.fontSize = size + 'px';
  if (color) d.style.color = color;
  page.appendChild(d);
  return d;
}
function legend(x, y, w, h) {
  const b = document.createElement('div');
  b.className = 'lg';
  b.style.left = x + 'px'; b.style.top = y + 'px'; b.style.width = w + 'px'; b.style.height = h + 'px';
  page.appendChild(b);
  txt('AUC is significant', x + 19, y + 12, 18.6, '#555');
  txt('(i.e., FDR \u2264 0.05)', x + 19, y + 35, 18.6, '#555');
  const d1 = document.createElement('div');
  d1.className = 'dot';
  Object.assign(d1.style, {left:(x + 20.5) + 'px', top:(y + 65.5) + 'px', width:'13px', height:'13px', background:'#2196e8', border:'1px solid #1565a0'});
  page.appendChild(d1);
  txt('True', x + 41, y + 63, 18.6, '#555');
  const d2 = document.createElement('div');
  d2.className = 'dot';
  Object.assign(d2.style, {left:(x + 21) + 'px', top:(y + 91) + 'px', width:'12px', height:'12px', border:'2px solid #3b5fd0'});
  page.appendChild(d2);
  txt('False', x + 41, y + 88, 18.6, '#555');
}

// panel letters
txt('a', 12, 8, null, null, 'lt');
txt('b', 683, 8, null, null, 'lt');
txt('c', 20, 558, null, null, 'lt');
txt('d', 664, 548, null, null, 'lt');

// axis titles
txt('AUC-ROC', 78, 245, 26, '#555', 'yt');
txt('Density', 752, 215, 25, '#444', 'yt');
txt('AUC-ROC', 78, 780, 26, '#555', 'yt');
txt('AUC-ROC', 690, 790, 26, '#555', 'yt');
txt('Average Chemical Similarity within MoA class', 348, 463, null, null, 'ct');
txt('(Tanimoto Index of Atom Pair Descriptors)', 348, 495, null, null, 'ct');
txt('Chemical Similarity', 981, 462, null, null, 'ct');
txt('(Tanimoto Index of Atom Pair Descriptors)', 981, 494, null, null, 'ct');
txt('Median Phenotype Strength (\u201CEuclidean\u201D)', 348, 1010, null, null, 'ct');
txt('Median Phenotype Strength (\u201CMax\u201D)', 970, 1010, null, null, 'ct');

// r2 labels
txt(aR2, 484, 107, 16, '#222');
txt(cR2, 491, 588, 16, '#222');
txt(dR2, 1100, 586, 16, '#222');

// density labels
txt('Different MoA', 898, 51, 26, '#555');
txt('Same MoA', 948, 132, 26, '#2e88c3');

// legends
legend(406, 284, 176, 117);
legend(406, 838, 176, 117);
legend(1003, 840, 175, 116);
</script>
</body></html>
